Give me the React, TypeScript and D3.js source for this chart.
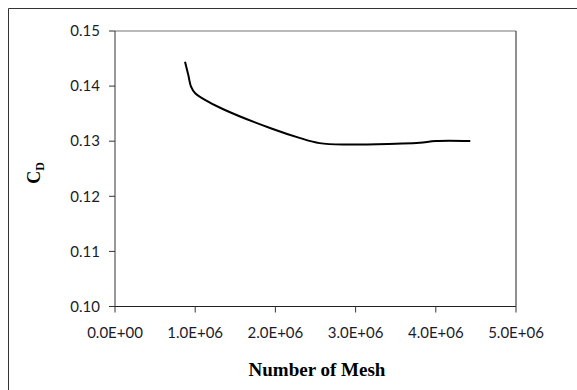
import React from "react";
import * as d3 from "d3";

const meshCounts = [0.873e6, 0.914e6, 0.948e6, 1.0e6, 1.1e6, 1.35e6, 1.95e6, 2.3e6, 2.55e6, 2.9e6, 3.5e6, 3.8e6, 4.0e6, 4.43e6];
const cdValues = [0.1444, 0.142, 0.1399, 0.1387, 0.1377, 0.1358, 0.1323, 0.1306, 0.12965, 0.1294, 0.12955, 0.1297, 0.13005, 0.13005];
const xTicks = [0, 1e6, 2e6, 3e6, 4e6, 5e6];
const yTicks = [0.1, 0.11, 0.12, 0.13, 0.14, 0.15];

const W = 577;
const H = 390;
const left = 115;
const right = 516;
const top = 31;
const bottom = 306.5;

const fmtX = (v: number) => {
  const m = v / 1e6;
  return v === 0 ? "0.0E+00" : `${m.toFixed(1)}E+06`;
};

export default function App() {
  const x = d3.scaleLinear().domain([0, 5e6]).range([left, right]);
  const y = d3.scaleLinear().domain([0.1, 0.15]).range([bottom, top]);
  const pts = meshCounts.map((m, i) => [m, cdValues[i]] as [number, number]);
  const line = d3
    .line<[number, number]>()
    .x((d) => x(d[0]))
    .y((d) => y(d[1]))
    .curve(d3.curveCatmullRom.alpha(0.5));
  const tickFont = "Lato, 'Open Sans', sans-serif";
  const tickColor = "#1b1b2a";
  return (
    <svg
      width={W}
      height={H}
      style={{ position: "absolute", left: 0, top: 0, background: "#fff" }}
    >
      <rect x={0} y={0} width={W} height={H} fill="#fff" />
      <path d={`M8.5,${H} V8.5 H${W}`} fill="none" stroke="#333" strokeWidth={1} />
      {/* plot area border */}
      <line x1={left} x2={right} y1={top} y2={top} stroke="#777" strokeWidth={1} />
      <line x1={right} x2={right} y1={top} y2={bottom} stroke="#222" strokeWidth={1} />
      {/* axes */}
      <line x1={left} x2={left} y1={top} y2={bottom} stroke="#333" strokeWidth={1} />
      <line x1={left} x2={right} y1={bottom} y2={bottom} stroke="#222" strokeWidth={1} />
      {yTicks.map((t) => (
        <g key={`y${t}`}>
          <line x1={left - 6} x2={left} y1={y(t)} y2={y(t)} stroke="#333" strokeWidth={1} />
          <text
            x={100}
            y={y(t)}
            dy="0.35em"
            textAnchor="end"
            fontFamily={tickFont}
            fontSize={15}
            fill={tickColor}
          >
            {t.toFixed(2)}
          </text>
        </g>
      ))}
      {xTicks.map((t) => (
        <g key={`x${t}`}>
          <line x1={x(t)} x2={x(t)} y1={bottom} y2={bottom + 6} stroke="#333" strokeWidth={1} />
          <text
            x={x(t)}
            y={333}
            dy="0.35em"
            textAnchor="middle"
            fontFamily={tickFont}
            fontSize={15}
            fill={tickColor}
          >
            {fmtX(t)}
          </text>
        </g>
      ))}
      <path d={line(pts) ?? ""} fill="none" stroke="#000" strokeWidth={2} />
      <text
        x={317}
        y={369}
        dy="0.35em"
        textAnchor="middle"
        fontFamily="'Liberation Serif', 'Times New Roman', serif"
        fontWeight="bold"
        fontSize={19}
        fill="#000"
      >
        Number of Mesh
      </text>
      <text
        transform="translate(40,173) rotate(-90)"
        textAnchor="middle"
        fontFamily="'Liberation Serif', 'Times New Roman', serif"
        fontWeight="bold"
        fontSize={18}
        fill="#000"
      >
        C<tspan fontSize={12} dy={4}>D</tspan>
      </text>
    </svg>
  );
}
